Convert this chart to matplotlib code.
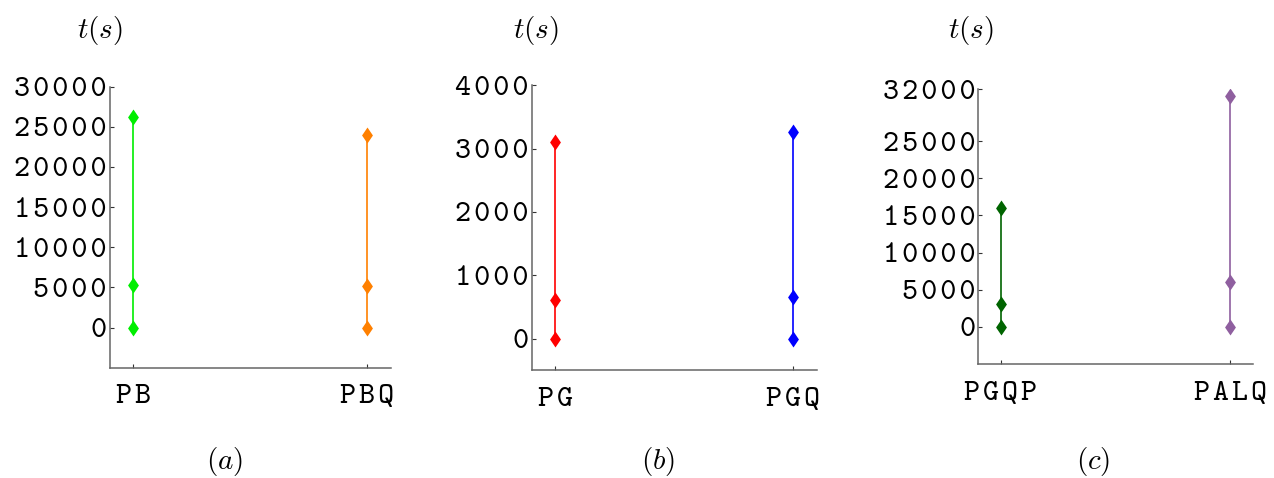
import matplotlib
matplotlib.use("Agg")
import matplotlib.pyplot as plt

plt.rcParams["mathtext.fontset"] = "cm"

# running times: minimum, middle and maximum for each method
cats_a = ["PB", "PBQ"]
min_a = [0, 0]
mid_a = [5350, 5200]
max_a = [26200, 24000]
colors_a = ["#00ee00", "#ff8000"]
yticks_a = [0, 5000, 10000, 15000, 20000, 25000, 30000]

cats_b = ["PG", "PGQ"]
min_b = [0, 0]
mid_b = [615, 650]
max_b = [3110, 3270]
colors_b = ["#ff0000", "#0000ff"]
yticks_b = [0, 1000, 2000, 3000, 4000]

cats_c = ["PGQP", "PALQ"]
min_c = [0, 0]
mid_c = [3100, 6000]
max_c = [16000, 31000]
colors_c = ["#006400", "#8f5f9f"]
yticks_c = [0, 5000, 10000, 15000, 20000, 25000, 32000]

panels = [
    (cats_a, min_a, mid_a, max_a, colors_a, yticks_a, (-5000, 30000), "$(a)$"),
    (cats_b, min_b, mid_b, max_b, colors_b, yticks_b, (-500, 4000), "$(b)$"),
    (cats_c, min_c, mid_c, max_c, colors_c, yticks_c, (-5000, 32000), "$(c)$"),
]

# axes boxes [left, bottom, width, height] in figure fraction
boxes = [
    [0.0861, 0.2308, 0.2206, 0.588],
    [0.4173, 0.2253, 0.2237, 0.5962],
    [0.7677, 0.2385, 0.2161, 0.5753],
]
ylabel_x = [0.0785, 0.4207, 0.7622]
caption_x = [0.1766, 0.5165, 0.8580]

diamond = [(0, 1), (0.68, 0), (0, -1), (-0.68, 0), (0, 1)]
ttfamily = ["cmtt10", "DejaVu Sans"]


def tt(s):
    # typewriter text, hair spaces between characters for wider tracking
    return "\u200a".join(str(s))


fig = plt.figure(figsize=(12.74, 4.78), dpi=100)

for (cats, lo, mid, hi, cols, yt, ylim, cap), box, yx, cx in zip(panels, boxes, ylabel_x, caption_x):
    ax = fig.add_axes(box)
    for i, c in enumerate(cats):
        ax.plot([i, i, i], [lo[i], mid[i], hi[i]], color=cols[i], lw=1.2,
                marker=diamond, markersize=11.5, markeredgewidth=0)
    ax.set_xlim(-0.1, 1.1)
    ax.set_ylim(*ylim)
    ax.set_xticks(range(len(cats)))
    ax.set_xticklabels([tt(c) for c in cats], fontsize=22, family=ttfamily)
    ax.set_yticks(yt)
    ax.set_yticklabels([tt(v) for v in yt], fontsize=22, family=ttfamily)
    for s in ["top", "right"]:
        ax.spines[s].set_visible(False)
    for s in ["left", "bottom"]:
        ax.spines[s].set_color("#666666")
        ax.spines[s].set_linewidth(1.1)
    ax.tick_params(axis="both", direction="in", length=3, width=0.8, color="#333333")
    ax.tick_params(axis="y", pad=2)
    ax.tick_params(axis="x", pad=12)
    fig.text(yx, 0.937, "$t(s)$", fontsize=21, ha="center", va="center")
    fig.text(cx, 0.035, cap, fontsize=21, ha="center", va="center")

fig.savefig("out.png", dpi=100)
